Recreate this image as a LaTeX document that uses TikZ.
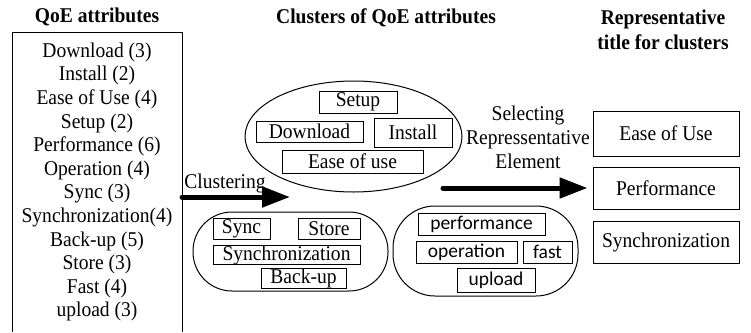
\documentclass[tikz,border=0pt]{standalone}
\usepackage{fontspec}
\setmainfont[FakeStretch=0.93]{Liberation Serif}
\newfontfamily\itemsans{Carlito}
\usetikzlibrary{arrows.meta,shapes.geometric}

\tikzset{
  base/.style={font=\fontsize{21}{23.6}\selectfont},
  heading/.style={font=\fontsize{21}{25}\selectfont\bfseries, align=center, inner sep=0},
  tag/.style={draw, line width=1pt, inner sep=0, base},
  stag/.style={tag, font=\fontsize{19.5}{23.6}\selectfont\itemsans},
  title/.style={draw, line width=1pt, inner sep=0, minimum width=146pt, base},
  group/.style={draw, line width=1pt, inner sep=0},
  fatarrow/.style={line width=5pt, line cap=round, -{Triangle[length=28pt,width=20pt]}},
}

\begin{document}
\begin{tikzpicture}[x=1pt,y=-1pt]
\useasboundingbox (0,0) rectangle (751,332);

% column headings
\node[heading] (h1) at (97,17) {QoE attributes};
\node[heading] (h2) at (386,18) {Clusters of QoE attributes};
\node[heading] (h3) at (663,29.5) {Representative\\title for clusters};

% list of attributes with counts (box open at the bottom)
\node[base, align=center, inner sep=0] (attrs) at (97,182) {Download (3)\\Install (2)\\Ease of Use (4)\\Setup (2)\\Performance (6)\\Operation (4)\\Sync (3)\\Synchronization(4)\\Back-up (5)\\Store (3)\\Fast (4)\\upload (3)};
\draw[line width=1pt] (12,332) |- (182,32) -- (182,332);

% cluster 1
\node[group, ellipse, minimum width=217pt, minimum height=111pt] (c1) at (353.5,136.5) {};
\node[tag, minimum width=78pt, minimum height=22pt] (setup) at (358,102) {Setup};
\node[tag, minimum width=107pt, minimum height=21pt] (download) at (309.5,131.5) {Download};
\node[tag, minimum width=78pt, minimum height=29pt] (install) at (413,132.5) {Install};
\node[tag, minimum width=141pt, minimum height=23pt] (ease) at (352.5,161.5) {Ease of use};

% cluster 2
\node[group, rounded corners=39pt, minimum width=195pt, minimum height=79pt] (c2) at (290.5,251.5) {};
\node[tag, minimum width=57pt, minimum height=21pt] (sync) at (241.5,228.5) {Sync};
\node[tag, minimum width=62pt, minimum height=21pt] (store) at (329,228.5) {Store};
\node[tag, minimum width=147pt, minimum height=18pt] (synchro) at (286.5,255) {Synchronization};
\node[tag, minimum width=85pt, minimum height=20pt] (backup) at (303.5,278) {Back-up};

% cluster 3
\node[group, rounded corners=42pt, minimum width=185pt, minimum height=90pt] (c3) at (485.5,251) {};
\node[stag, minimum width=127pt, minimum height=22pt] (perf) at (481.5,224) {performance};
\node[stag, minimum width=101pt, minimum height=22pt] (oper) at (466.5,252) {operation};
\node[stag, minimum width=49pt, minimum height=22pt] (fast) at (547.5,252) {fast};
\node[stag, minimum width=78pt, minimum height=24pt] (upload) at (496,280) {upload};

% representative titles
\node[title, minimum height=45pt] (r1) at (666,133.5) {Ease of Use};
\node[title, minimum height=42pt] (r2) at (666,188) {Performance};
\node[title, minimum height=42pt] (r3) at (666,242) {Synchronization};

% step arrows
\node[base, inner sep=0] (lbl1) at (225,183) {Clustering};
\coordinate (a1s) at (182,197);
\coordinate (a1e) at (290,197);
\draw[fatarrow] (a1s) -- (a1e);

\node[base, align=center, inner sep=0, font=\fontsize{21}{24}\selectfont] (lbl2) at (528,137) {Selecting\\Repressentative\\Element};
\coordinate (a2s) at (443,188);
\draw[fatarrow, shorten >=5pt] (a2s) -- (r2.west);
\end{tikzpicture}
\end{document}
